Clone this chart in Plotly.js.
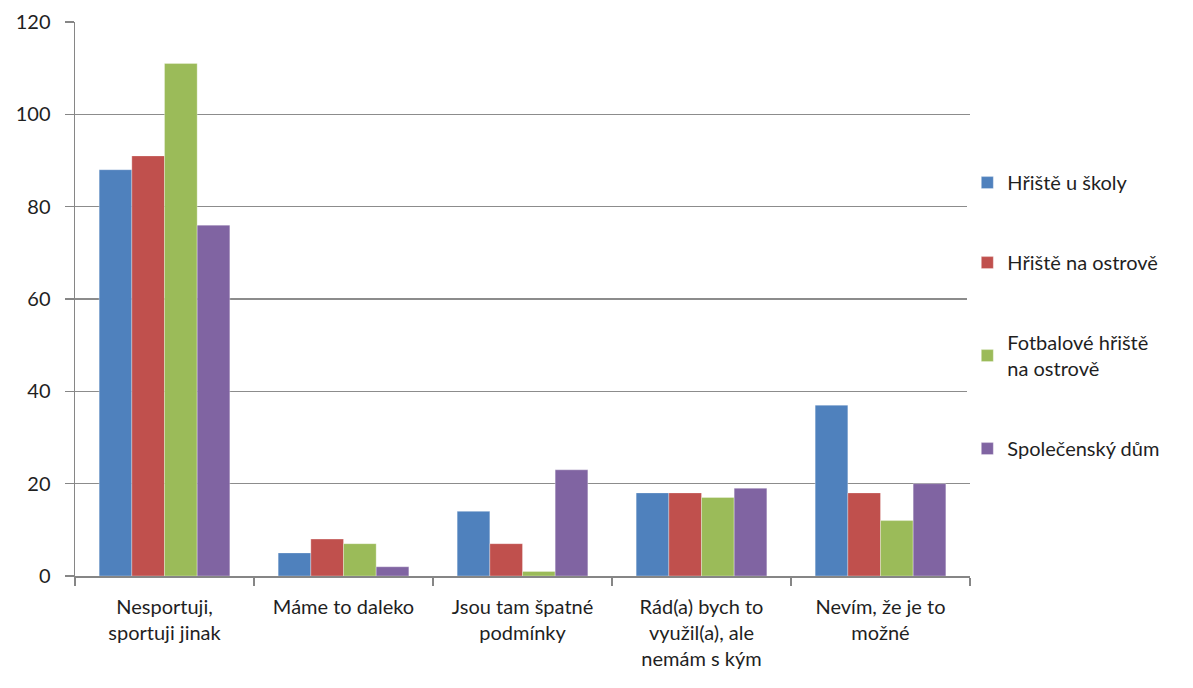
<!DOCTYPE html>
<html>
<head>
<meta charset="utf-8">
<script src="https://cdn.plot.ly/plotly-3.0.1.min.js"></script>
<style>
  body { margin: 0; background: #fff; }
  #chart { width: 1193px; height: 688px; }
</style>
</head>
<body>
<div id="chart"></div>
<script>
var categories = [
	'Nesportuji,<br>sportuji jinak',
	'Máme to daleko',
	'Jsou tam špatné<br>podmínky',
	'Rád(a) bych to<br>využil(a), ale<br>nemám s kým',
	'Nevím, že je to<br>možné'
];
var seriesNames = ['Hřiště u školy', 'Hřiště na ostrově', 'Fotbalové hřiště<br>na ostrově', 'Společenský dům'];
var skolaValues = [88, 5, 14, 18, 37];
var ostrovValues = [91, 8, 7, 18, 18];
var fotbalValues = [111, 7, 1, 17, 12];
var dumValues = [76, 2, 23, 19, 20];
var seriesColors = ['#4F81BD', '#C0504D', '#9BBB59', '#8064A2'];
var yTicks = [0, 20, 40, 60, 80, 100, 120];

var allValues = [skolaValues, ostrovValues, fotbalValues, dumValues];
var traceArray = [];
for (var i = 0; i < allValues.length; i++) {
	traceArray.push({
		x: categories,
		y: allValues[i],
		type: 'bar',
		name: seriesNames[i],
		legendgroup: 'g' + i,
		marker: {color: seriesColors[i], line: {color: 'rgba(255,255,255,0.6)', width: 0.5}},
		hoverinfo: 'y'
	});
}

var textFont = {family: 'Lato, "Open Sans", sans-serif', size: 20, color: '#1f1f1f'};

var plotLayout = {
	width: 1193,
	height: 688,
	margin: {l: 75, r: 223, t: 22, b: 112},
	paper_bgcolor: '#ffffff',
	plot_bgcolor: '#ffffff',
	barmode: 'group',
	bargap: 0.27,
	bargroupgap: 0,
	font: textFont,
	showlegend: true,
	legend: {
		x: 0.997,
		xanchor: 'left',
		y: 0.47,
		yanchor: 'middle',
		font: textFont,
		tracegroupgap: 51,
		itemwidth: 30
	},
	xaxis: {
		type: 'category',
		showline: true,
		linecolor: '#868686',
		linewidth: 1.5,
		ticks: 'outside',
		tickson: 'boundaries',
		ticklen: 8,
		tickcolor: '#868686',
		tickwidth: 1.5,
		ticklabelstandoff: 12,
		showgrid: false,
		tickfont: textFont
	},
	yaxis: {
		range: [0, 120],
		tickvals: yTicks,
		ticktext: yTicks.map(String),
		showline: true,
		linecolor: '#868686',
		linewidth: 1.5,
		ticks: 'outside',
		ticklen: 9,
		tickcolor: '#868686',
		tickwidth: 1.5,
		ticklabelstandoff: 10,
		showgrid: true,
		gridcolor: '#8c8c8c',
		gridwidth: 1.5,
		zeroline: false,
		tickfont: textFont
	}
};

Plotly.newPlot(document.getElementById('chart'), traceArray, plotLayout, {displayModeBar: false, staticPlot: true});
</script>
</body>
</html>
